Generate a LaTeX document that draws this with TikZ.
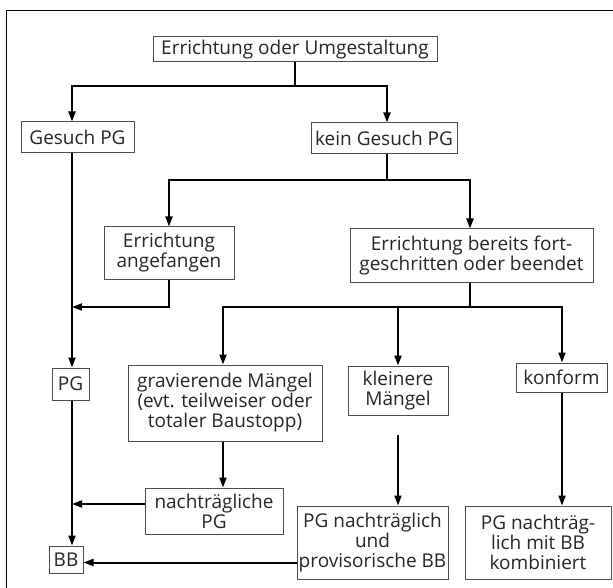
\documentclass[tikz,border=0pt]{standalone}
\usepackage{fontspec}
\setmainfont{Open Sans}
\usetikzlibrary{arrows.meta}
\begin{document}
\begin{tikzpicture}[x=1pt,y=-1pt,
  box/.style={draw=black!70,line width=1pt,fill=white,align=center,inner sep=0pt,
    font=\fontsize{19}{20}\selectfont,text=black!85},
  ln/.style={line width=2pt,black},
  arr/.style={ln,-{Triangle[length=10pt,width=7pt]}},
  frame/.style={line width=1pt,black}]
\useasboundingbox (0,0) rectangle (613,588);
\draw[frame] (6.5,588) -- (6.5,11) -- (613,11);

\node[box,minimum width=284,minimum height=25] (top) at (295,49.5) {Errichtung oder Umgestaltung};
\node[box,minimum width=113,minimum height=31] (gpg) at (77.5,137.5) {Gesuch PG};
\node[box,minimum width=146,minimum height=31] (kgpg) at (384,138.5) {kein Gesuch PG};
\node[box,minimum width=130,minimum height=52] (ang) at (169,253) {Errichtung\\angefangen};
\node[box,minimum width=243,minimum height=53] (ber) at (471.5,255.5) {Errichtung bereits fort-\\geschritten oder beendet};
\node[box,minimum width=37,minimum height=32] (pg) at (70.5,384) {PG};
\node[box,minimum width=194,minimum height=76] (grav) at (225,403) {gravierende Mängel\\(evt. teilweiser oder\\totaler Baustopp)};
\node[box,minimum width=100,minimum height=49] (kl) at (398,390.5) {kleinere\\Mängel};
\node[box,minimum width=91,minimum height=29] (konf) at (561.5,377.5) {konform};
\node[box,minimum width=138,minimum height=46] (npg) at (214,511) {nachträgliche\\PG};
\node[box,minimum width=151,minimum height=73] (pgn) at (372.5,542.5) {PG nachträglich\\und\\provisorische BB};
\node[box,minimum width=146,minimum height=73] (pgbb) at (538,542.5) {PG nachträg-\\lich mit BB\\kombiniert};
\node[box,minimum width=34,minimum height=27] (bb) at (66,559.5) {BB};

\coordinate (jL) at (72,86);
\coordinate (jR) at (387,86);
\coordinate (jA) at (169,180);
\coordinate (jB) at (470,180);
\coordinate (jC) at (72,307);
\coordinate (jD) at (223,307);
\coordinate (jE) at (398,307);
\coordinate (jF) at (562,307);
\coordinate (jG) at (72,504);
\coordinate (jH) at ([yshift=-3pt]bb.east);

\draw[arr] (top.south) |- (jL) -- (jL |- gpg.north);
\draw[arr] (top.south) |- (jR) -- (jR |- kgpg.north);
\draw[arr] (jR |- kgpg.south) |- (jA) -- (jA |- ang.north);
\draw[arr] (jR |- kgpg.south) |- (jB) -- (jB |- ber.north);
\draw[arr] (ang.south) |- (jC);
\draw[arr] (jL |- gpg.south) -- (jL |- pg.north);
\draw[arr] (jL |- pg.south) -- (jL |- bb.north);
\draw[arr] (jB |- ber.south) |- (jD) -- (jD |- grav.north);
\draw[arr] (jB |- ber.south) |- (jE) -- (jE |- kl.north);
\draw[arr] (jB |- ber.south) |- (jF) -- (jF |- konf.north);
\draw[arr] (jD |- grav.south) -- (jD |- npg.north);
\draw[arr] (npg.west |- jG) -- (jG);
\draw[arr] ([yshift=-19pt]kl.south) -- (kl.south |- pgn.north);
\draw[arr] (jF |- konf.south) -- (jF |- pgbb.north);
\draw[arr] (pgn.west |- jH) -- (jH);
\end{tikzpicture}
\end{document}
